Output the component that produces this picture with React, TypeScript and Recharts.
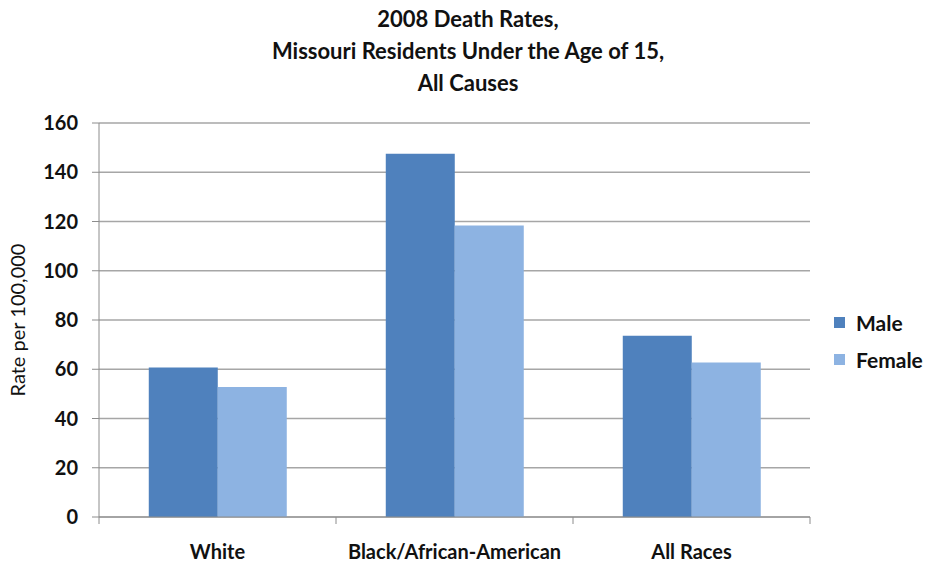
import React from "react";
import { BarChart, Bar, XAxis, YAxis, CartesianGrid, Legend } from "recharts";

const categories = ["White", "Black/African-American", "All Races"];
const maleRates = [60.7, 147.5, 73.6];
const femaleRates = [52.8, 118.4, 62.7];
const yTicks = [0, 20, 40, 60, 80, 100, 120, 140, 160];
const titleLines = ["2008 Death Rates,", "Missouri Residents Under the Age of 15,", "All Causes"];
const seriesNames = ["Male", "Female"];
const colors = ["#4F81BD", "#8DB3E2"];

const data = categories.map((c, i) => ({ name: c, male: maleRates[i], female: femaleRates[i] }));

const FONT = "Lato, 'Open Sans', sans-serif";
const AXIS = "#8C8C8C";

const LegendContent = () => (
  <div style={{ fontFamily: FONT, fontWeight: 700, fontSize: 21, color: "#111" }}>
    {seriesNames.map((n, i) => (
      <div key={n} style={{ display: "flex", alignItems: "center", height: 37 }}>
        <span style={{ display: "inline-block", width: 11, height: 11, background: colors[i], marginRight: 11 }} />
        <span>{n}</span>
      </div>
    ))}
  </div>
);

const CategoryTick = (props: any) => {
  const { x, y, payload, index, visibleTicksCount } = props;
  const half = payload && payload.offset ? payload.offset : 0;
  const isLast = index === visibleTicksCount - 1;
  return (
    <g>
      <line x1={x - half} x2={x - half} y1={y} y2={y + 7} stroke={AXIS} />
      {isLast && <line x1={x + half} x2={x + half} y1={y} y2={y + 7} stroke={AXIS} />}
      <text x={x} y={y + 42} textAnchor="middle" fill="#111" fontFamily={FONT} fontWeight={700} fontSize={20}>
        {payload.value}
      </text>
    </g>
  );
};

export default function App() {
  return (
    <div style={{ position: "absolute", left: 0, top: 0, width: 932, height: 563, background: "#fff" }}>
      <div style={{ position: "absolute", left: 0, top: 3, width: 936, textAlign: "center", fontFamily: FONT, fontWeight: 700, fontSize: 22, lineHeight: "32px", color: "#111" }}>
        {titleLines.map((t) => (
          <div key={t}>{t}</div>
        ))}
      </div>
      <BarChart
        width={932}
        height={563}
        data={data}
        margin={{ top: 123, right: 22, bottom: 0, left: 0 }}
        barCategoryGap="21%"
        barGap={0}
      >
        <CartesianGrid vertical={false} stroke="#A6A6A6" strokeWidth={1.3} />
        <XAxis
          dataKey="name"
          axisLine={{ stroke: AXIS }}
          tickLine={false}
          tickSize={0}
          tickMargin={0}
          height={46}
          tick={<CategoryTick />}
          interval={0}
        />
        <YAxis
          domain={[0, 160]}
          ticks={yTicks}
          width={99}
          tickSize={7}
          tickMargin={14}
          axisLine={{ stroke: AXIS }}
          tickLine={{ stroke: AXIS }}
          tick={{ fill: "#111", fontFamily: FONT, fontWeight: 700, fontSize: 20 }}
          label={{ value: "Rate per 100,000", angle: -90, position: "insideLeft", offset: 18, style: { fill: "#111", fontFamily: FONT, fontSize: 20, textAnchor: "middle" } }}
        />
        <Legend layout="vertical" align="right" verticalAlign="top" wrapperStyle={{ left: 834, top: 304, width: 100 }} content={<LegendContent />} />
        <Bar dataKey="male" name="Male" fill={colors[0]} isAnimationActive={false} />
        <Bar dataKey="female" name="Female" fill={colors[1]} isAnimationActive={false} />
      </BarChart>
    </div>
  );
}
